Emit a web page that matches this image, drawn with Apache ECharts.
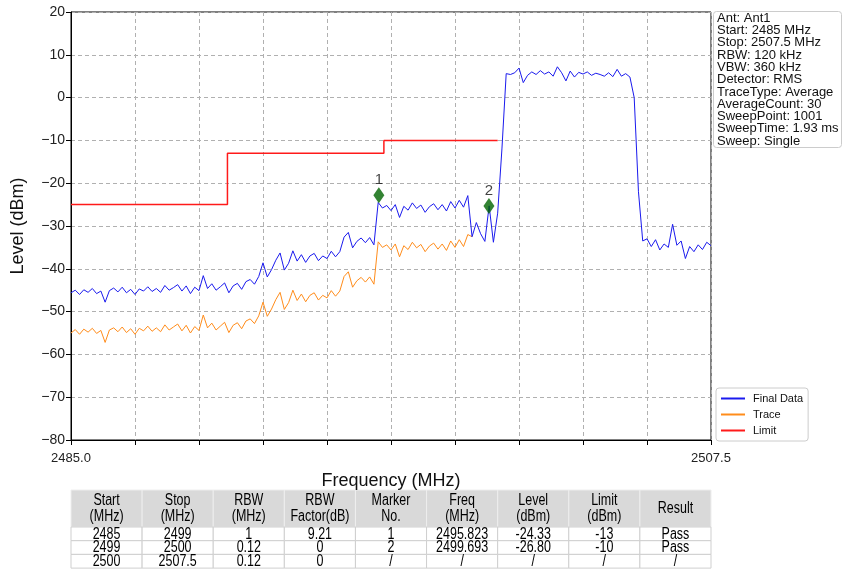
<!DOCTYPE html>
<html>
<head>
<meta charset="utf-8">
<script src="https://cdn.jsdelivr.net/npm/echarts@6/dist/echarts.min.js"></script>
<style>
  html, body { margin: 0; padding: 0; background: #fff; }
  #main { width: 843px; height: 572px; }
</style>
</head>
<body>
<div id="main"></div>
<script>
// sweep: 2485 .. 2507.5 MHz, read every 0.15 MHz off the picture
var FREQ_START = 2485, FREQ_STOP = 2507.5, FREQ_STEP = 0.15;

// Final Data (dBm)
var finalLevels = [
  -45.6,-45.0,-46.0,-44.9,-45.5,-44.6,-45.8,-45.2,-47.8,-45.1,
  -44.5,-45.4,-44.3,-45.6,-44.8,-46.0,-44.7,-45.2,-44.2,-45.3,
  -44.6,-45.5,-43.9,-45.0,-44.4,-43.7,-45.2,-44.0,-45.8,-44.3,
  -45.1,-41.6,-44.6,-43.5,-45.0,-44.2,-43.3,-45.6,-44.0,-43.4,
  -44.8,-43.0,-42.5,-43.6,-41.8,-38.6,-41.9,-40.2,-38.0,-36.3,
  -40.3,-38.7,-35.8,-38.2,-36.7,-38.5,-37.0,-36.4,-38.1,-37.0,
  -37.6,-35.9,-37.2,-36.0,-32.6,-31.5,-35.1,-33.6,-32.8,-33.9,
  -32.7,-34.4,-24.5,-25.8,-25.2,-26.4,-25.0,-28.0,-25.4,-26.3,
  -24.6,-25.9,-25.1,-26.8,-25.5,-24.8,-26.2,-25.0,-26.5,-24.3,
  -25.8,-24.0,-25.6,-22.9,-32.5,-29.2,-31.8,-33.6,-25.3,-33.8,
  -27.0,-12.0,5.6,5.4,5.8,6.9,3.5,5.2,6.0,5.4,
  6.3,5.5,6.0,5.0,7.2,5.8,3.9,6.2,4.8,5.9,
  5.5,6.0,5.2,5.7,5.4,5.0,5.8,4.9,6.6,5.0,
  5.6,4.8,0.0,-22.0,-33.5,-33.0,-34.8,-33.2,-35.6,-34.2,
  -35.0,-29.6,-34.5,-33.5,-37.6,-34.8,-36.0,-34.4,-35.5,-33.8,
  -34.6
];

// Trace (dBm), same sweep, ends at ~2499.1 MHz
var traceLevels = [
  -55.0,-54.2,-55.3,-54.1,-54.8,-53.9,-55.1,-54.4,-57.2,-54.3,
  -53.8,-54.7,-53.6,-54.9,-54.0,-55.3,-53.9,-54.5,-53.4,-54.6,
  -53.8,-54.7,-53.1,-54.3,-53.6,-52.9,-54.5,-53.2,-55.0,-53.5,
  -54.4,-50.8,-53.8,-52.7,-54.3,-53.4,-52.5,-54.9,-53.2,-52.6,
  -54.0,-52.2,-51.7,-52.8,-51.0,-47.8,-51.1,-49.4,-47.2,-45.5,
  -49.5,-47.9,-45.0,-47.4,-45.9,-47.7,-46.2,-45.6,-47.3,-46.2,
  -46.8,-45.1,-46.4,-45.2,-41.8,-40.7,-44.3,-42.8,-42.0,-43.1,
  -41.9,-43.6,-33.7,-35.0,-34.4,-35.6,-34.2,-37.2,-34.6,-35.5,
  -33.8,-35.1,-34.3,-36.0,-34.7,-34.0,-35.4,-34.2,-35.7,-33.5,
  -35.0,-33.2,-34.8,-32.0,-32.5
];

// Limit line (step)
var limitFreqs  = [2485, 2490.5, 2490.5, 2496, 2496, 2500];
var limitLevels = [-25, -25, -13, -13, -10, -10];

// markers
var markerNames  = ['1', '2'];
var markerFreqs  = [2495.823, 2499.693];
var markerLevels = [-22.8, -25.3];

var infoLines = [
  'Ant: Ant1', 'Start: 2485 MHz', 'Stop: 2507.5 MHz', 'RBW: 120 kHz', 'VBW: 360 kHz',
  'Detector: RMS', 'TraceType: Average', 'AverageCount: 30', 'SweepPoint: 1001',
  'SweepTime: 1.93 ms', 'Sweep: Single'
];

var tableHeader = ['Start\n(MHz)', 'Stop\n(MHz)', 'RBW\n(MHz)', 'RBW\nFactor(dB)', 'Marker\nNo.',
                   'Freq\n(MHz)', 'Level\n(dBm)', 'Limit\n(dBm)', 'Result'];
var tableRows = [
  ['2485', '2499', '1', '9.21', '1', '2495.823', '-24.33', '-13', 'Pass'],
  ['2499', '2500', '0.12', '0', '2', '2499.693', '-26.80', '-10', 'Pass'],
  ['2500', '2507.5', '0.12', '0', '/', '/', '/', '/', '/']
];

// x axis runs in MHz above FREQ_START so that ticks start at 0
function rel(f) { return +(f - FREQ_START).toFixed(4); }
function sweep(levels) {
  return levels.map(function (v, i) { return [+(i * FREQ_STEP).toFixed(4), v]; });
}

var chart = echarts.init(document.getElementById('main'));
var FONT = 'Liberation Sans, Arial, sans-serif';

// table as graphic elements (text squeezed a bit like the original)
var tbl = [];
var tLeft = 71, tWidth = 640, tTop = 490, headH = 37, rowH = 13.7;
var colW = tWidth / tableHeader.length;
tableHeader.forEach(function (h, c) {
  tbl.push({ type: 'rect', shape: { x: tLeft + c * colW, y: tTop, width: colW, height: headH },
    style: { fill: '#d9d9d9', stroke: '#eeeeee', lineWidth: 1 } });
  tbl.push({ type: 'text', x: tLeft + c * colW + colW / 2, y: tTop + headH / 2, scaleX: 0.78,
    style: { text: h, font: '16px ' + FONT, fill: '#000', align: 'center', verticalAlign: 'middle', lineHeight: 16 } });
});
tableRows.forEach(function (row, r) {
  row.forEach(function (cell, c) {
    var y = tTop + headH + r * rowH;
    tbl.push({ type: 'rect', shape: { x: tLeft + c * colW, y: y, width: colW, height: rowH },
      style: { fill: '#fff', stroke: '#cfcfcf', lineWidth: 1 } });
    tbl.push({ type: 'text', x: tLeft + c * colW + colW / 2, y: y + rowH / 2 + 0.5, scaleX: 0.78,
      style: { text: cell, font: '16px ' + FONT, fill: '#000', align: 'center', verticalAlign: 'middle' } });
  });
});

var graphics = [
  { type: 'rect', shape: { x: 713.5, y: 11.5, width: 128, height: 136, r: 3 },
    style: { fill: '#fff', stroke: '#cccccc', lineWidth: 1 } },
  { type: 'text', x: 717, y: 12,
    style: { text: infoLines.join('\n'), font: '13px ' + FONT, fill: '#111', lineHeight: 12.3 } }
].concat(tbl);

chart.setOption({
  animation: false,
  backgroundColor: '#fff',
  grid: { left: 71, top: 12, width: 640, height: 428, show: true, borderColor: '#000', borderWidth: 1, containLabel: false },
  legend: {
    data: ['Final Data', 'Trace', 'Limit'],
    orient: 'vertical', left: 716, top: 388,
    icon: 'rect', itemWidth: 24, itemHeight: 2, itemGap: 5,
    padding: [5, 5, 5, 5],
    backgroundColor: '#fff', borderColor: '#cccccc', borderWidth: 1, borderRadius: 3,
    textStyle: { fontFamily: FONT, fontSize: 11, color: '#111', padding: [0, 0, 0, 3] }
  },
  xAxis: {
    type: 'value', min: 0, max: rel(FREQ_STOP), interval: 2.25,
    name: 'Frequency (MHz)', nameLocation: 'middle', nameGap: 32,
    nameTextStyle: { fontFamily: FONT, fontSize: 18, color: '#111' },
    axisLine: { show: true, onZero: false, lineStyle: { color: '#000' } },
    axisTick: { show: true, inside: false, length: 5, lineStyle: { color: '#000' } },
    axisLabel: {
      show: true, margin: 12, fontFamily: FONT, fontSize: 13, color: '#222',
      showMinLabel: true, showMaxLabel: true,
      formatter: function (v) {
        return (v === 0 || Math.abs(v - rel(FREQ_STOP)) < 1e-6) ? (FREQ_START + v).toFixed(1) : '';
      }
    },
    splitLine: { show: true, lineStyle: { color: '#b0b0b0', type: [4, 3], width: 1 } }
  },
  yAxis: {
    type: 'value', min: -80, max: 20, interval: 10,
    name: 'Level (dBm)', nameLocation: 'middle', nameGap: 44,
    nameTextStyle: { fontFamily: FONT, fontSize: 18, color: '#111' },
    axisLine: { show: true, onZero: false, lineStyle: { color: '#000' } },
    axisTick: { show: true, inside: false, length: 5, lineStyle: { color: '#000' } },
    axisLabel: {
      margin: 6, fontFamily: FONT, fontSize: 14, color: '#222',
      formatter: function (v) { return String(v).replace('-', '\u2212'); }
    },
    splitLine: { show: true, lineStyle: { color: '#b0b0b0', type: [4, 3], width: 1 } }
  },
  series: [
    {
      name: 'Trace', type: 'line', symbol: 'none', z: 3,
      data: sweep(traceLevels),
      lineStyle: { color: '#ff8c1a', width: 1 }, itemStyle: { color: '#ff8c1a' }
    },
    {
      name: 'Final Data', type: 'line', symbol: 'none', z: 4,
      data: sweep(finalLevels),
      lineStyle: { color: '#1a1aee', width: 1 }, itemStyle: { color: '#1a1aee' }
    },
    {
      name: 'Limit', type: 'line', symbol: 'none', z: 5,
      data: limitFreqs.map(function (f, i) { return [rel(f), limitLevels[i]]; }),
      lineStyle: { color: '#ff1a1a', width: 1.5 }, itemStyle: { color: '#ff1a1a' }
    },
    {
      name: 'Markers', type: 'scatter', z: 6,
      symbol: 'diamond', symbolSize: [11, 16],
      itemStyle: { color: '#006400' },
      label: {
        show: true, position: 'top', distance: 0, fontFamily: FONT, fontSize: 15, color: '#111',
        formatter: function (p) { return markerNames[p.dataIndex]; }
      },
      data: markerFreqs.map(function (f, i) { return [rel(f), markerLevels[i]]; })
    }
  ],
  graphic: graphics
});
</script>
</body>
</html>
